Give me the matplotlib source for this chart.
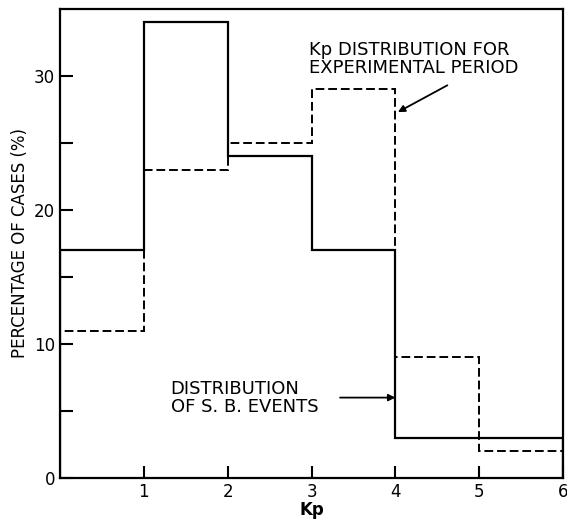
import numpy as np
import matplotlib.pyplot as plt

kp_edges = [0, 1, 2, 3, 4, 5, 6]
sb_events = [17, 34, 24, 17, 3, 3]
exp_period = [11, 23, 25, 29, 9, 2]

fig = plt.figure(figsize=(5.67, 5.23), dpi=100)
ax = fig.add_axes([0.106, 0.086, 0.887, 0.897])

ax.stairs(sb_events, kp_edges, color='black', linewidth=1.6)
ax.stairs(exp_period, kp_edges, color='black', linewidth=1.4, linestyle=(0, (4.5, 2)))

ax.set_xlim(0, 6)
ax.set_ylim(0, 35)
ax.set_xticks([1, 2, 3, 4, 5, 6])
ax.set_yticks([0, 10, 20, 30])
ax.set_yticks([5, 15, 25], minor=True)
ax.tick_params(direction='in', length=9, width=1.5, labelsize=12)
ax.tick_params(which='minor', direction='in', length=9, width=1.5)
for s in ax.spines.values():
    s.set_linewidth(1.6)

ax.set_xlabel('Kp', fontsize=12, fontweight='bold', labelpad=0)
ax.set_ylabel('PERCENTAGE OF CASES (%)', fontsize=12, labelpad=4)

# labels and arrows
ax.text(2.97, 29.9, 'Kp DISTRIBUTION FOR\nEXPERIMENTAL PERIOD', fontsize=13,
        ha='left', va='bottom', linespacing=1.05)
ax.annotate('', xy=(4.03, 27.3), xytext=(4.62, 29.3),
            arrowprops=dict(arrowstyle='-|>', color='black', lw=1.3, shrinkA=0, shrinkB=0))
ax.text(1.32, 4.6, 'DISTRIBUTION\nOF S. B. EVENTS', fontsize=13, ha='left', va='bottom',
        linespacing=1.05)
ax.annotate('', xy=(4.0, 6.0), xytext=(3.34, 6.0),
            arrowprops=dict(arrowstyle='-|>', color='black', lw=1.3, shrinkA=0, shrinkB=0))

fig.savefig('out.png', dpi=100)
